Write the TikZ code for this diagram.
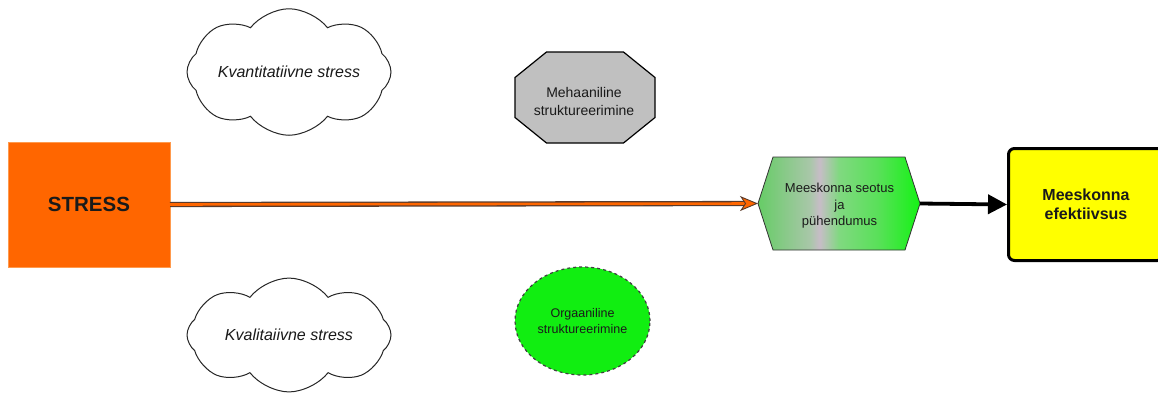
\documentclass[tikz,border=0pt]{standalone}
\usepackage{fontspec}
\setmainfont{Liberation Sans}
\usetikzlibrary{shapes.symbols,shapes.geometric,arrows.meta}
\definecolor{stressor}{HTML}{FF6600}
\definecolor{stressedge}{HTML}{FF9A4D}
\definecolor{shaftedge}{HTML}{5A3A2A}
\definecolor{octgray}{HTML}{C0C0C0}
\definecolor{orggreen}{HTML}{11EE11}
\definecolor{effyellow}{HTML}{FFFF00}
\definecolor{txt}{HTML}{1A1A1A}
\pgfdeclarehorizontalshading{hexshade}{100bp}{rgb(0bp)=(0.40,0.80,0.40); rgb(25bp)=(0.40,0.80,0.40); rgb(41bp)=(0.66,0.78,0.66); rgb(44bp)=(0.78,0.74,0.78); rgb(50bp)=(0.50,0.85,0.50); rgb(62bp)=(0.35,0.88,0.35); rgb(75bp)=(0.08,0.95,0.08); rgb(100bp)=(0.08,0.95,0.08)}
\tikzset{
  stressbox/.style={rectangle, fill=stressor, draw=stressedge, line width=0.6pt,
    minimum width=162pt, minimum height=125pt, outer sep=0pt, text=txt,
    font=\fontsize{20.5}{24}\selectfont\bfseries},
  cloudbox/.style={cloud, draw=black!85, line width=1pt, fill=white, cloud puffs=8,
    cloud puff arc=105, aspect=2.1, minimum width=204pt, minimum height=110pt,
    inner sep=0pt, text=txt, font=\fontsize{16}{19}\selectfont\itshape},
  plainbox/.style={rectangle, draw=none, outer sep=0pt, inner sep=0pt, align=center, text=txt},
  octshape/.style={fill=octgray, draw=black, line width=1.2pt, line join=miter},
  orgbox/.style={ellipse, fill=orggreen, draw=black!75, dashed, line width=1.2pt,
    minimum width=135pt, minimum height=108pt, inner sep=0pt, align=center, text=txt,
    font=\fontsize{12.5}{16}\selectfont},
  hexshape/.style={shading=hexshade, draw=black!80, line width=0.8pt},
  effbox/.style={rectangle, rounded corners=6pt, fill=effyellow, draw=black, line width=3pt,
    minimum width=155pt, minimum height=112pt, align=center, text=txt,
    font=\fontsize{16}{19.5}\selectfont\bfseries},
  bigarrow/.style={line width=3.8pt, -{Triangle[length=19pt,width=19pt]}},
}
\begin{document}
\begin{tikzpicture}[x=1pt,y=-1pt]
\useasboundingbox (0,0) rectangle (1158,394);
\node[stressbox] (stress) at (89,204.5) {STRESS};
\node[cloudbox] (quant) at (289,72) {Kvantitatiivne stress};
\node[cloudbox] (qual) at (289,335) {Kvalitaiivne stress};
% octagon
\node[plainbox, minimum width=140pt, minimum height=91pt] (mech) at (585,97.5) {};
\filldraw[octshape] ([xshift=31.5pt]mech.north west) -- ([xshift=-31.5pt]mech.north east)
  -- ([yshift=-25.5pt]mech.north east) -- ([yshift=25.5pt]mech.south east)
  -- ([xshift=-31.5pt]mech.south east) -- ([xshift=31.5pt]mech.south west)
  -- ([yshift=25.5pt]mech.south west) -- ([yshift=-25.5pt]mech.north west) -- cycle;
\node[plainbox, font=\fontsize{14}{18}\selectfont] (mechtext) at (584,101) {Mehaaniline\\struktureerimine};
% ellipse
\node[orgbox] (org) at (582.5,321) {Orgaaniline\\struktureerimine};
% hexagon
\node[plainbox, minimum width=162pt, minimum height=93pt] (hex) at (839,203.5) {};
\shadedraw[hexshape] (hex.west) -- ([xshift=15pt]hex.north west) -- ([xshift=-15pt]hex.north east)
  -- (hex.east) -- ([xshift=-15pt]hex.south east) -- ([xshift=15pt]hex.south west) -- cycle;
\node[plainbox, font=\fontsize{13}{16.5}\selectfont] (hextext) at (839.5,206) {Meeskonna seotus\\ja\\pühendumus};
% effectiveness
\node[effbox] (eff) at (1086,204.5) {Meeskonna\\efektiivsus};
% connectors
\draw[draw=shaftedge, line width=5.2pt, shorten >=10pt] (stress.east) -- (hex.west);
\draw[draw=stressor, line width=2.6pt, shorten >=10pt] (stress.east) -- (hex.west);
\draw[stressor, line width=0.1pt, -{Stealth[length=18pt,width=15pt,inset=5pt,color=shaftedge,fill=stressor,line width=0.9pt]}] (stress.east) -- (hex.west);
\draw[bigarrow] (hex.east) -- (eff.west);
\end{tikzpicture}
\end{document}
